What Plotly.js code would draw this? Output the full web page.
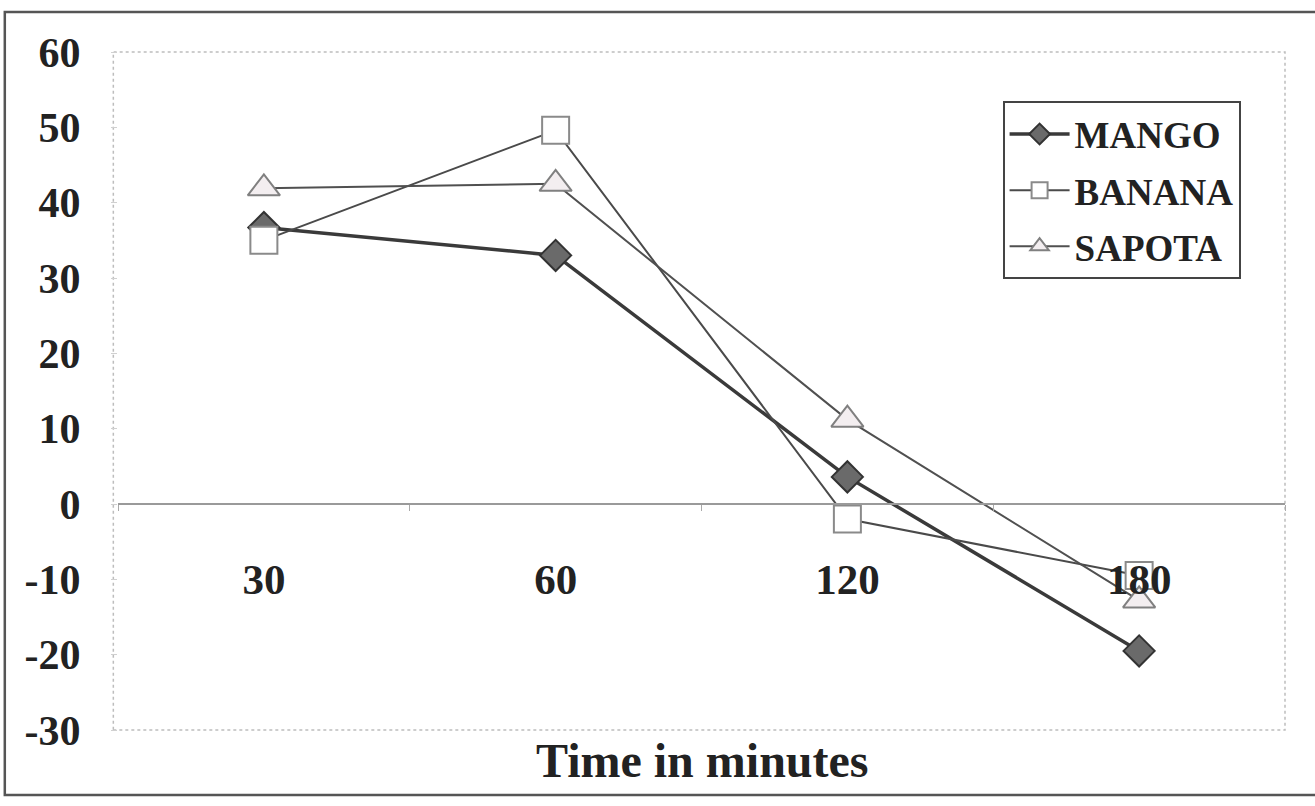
<!DOCTYPE html>
<html>
<head>
<meta charset="utf-8">
<script src="https://cdn.plot.ly/plotly-3.0.1.min.js"></script>
<style>html,body{margin:0;padding:0;background:#fff;}#chart{width:1315px;height:806px;}</style>
</head>
<body>
<div id="chart"></div>
<script>
const categories = ['30', '60', '120', '180'];
const mango = [36.7, 33, 3.6, -19.5];
const banana = [35, 49.6, -2, -9.5];
const sapota = [41.9, 42.5, 11.2, -12.8];
const yTicks = [60, 50, 40, 30, 20, 10, 0, -10, -20, -30];
const xTitle = 'Time in minutes';

const serif = '"Liberation Serif", "DejaVu Serif", serif';

const traces = [
  {
    x: categories, y: mango, name: 'MANGO', type: 'scatter', mode: 'lines+markers',
    legendgroup: 'g1',
    line: {color: '#3a3a3a', width: 3.5},
    marker: {symbol: 'diamond', size: 24, color: '#6a6a6a', line: {color: '#333', width: 2}}
  },
  {
    x: categories, y: banana, name: 'BANANA', type: 'scatter', mode: 'lines+markers',
    legendgroup: 'g2',
    line: {color: '#4a4a4a', width: 2},
    marker: {symbol: 'square', size: 27, color: '#ffffff', line: {color: '#8a8a8a', width: 2}}
  },
  {
    x: categories, y: sapota, name: 'SAPOTA', type: 'scatter', mode: 'lines+markers',
    legendgroup: 'g3',
    line: {color: '#505050', width: 2},
    marker: {symbol: 'triangle-up', size: 28, color: '#f3eef0', line: {color: '#808080', width: 2}}
  }
];

const layout = {
  width: 1315, height: 806,
  margin: {l: 118, r: 30, t: 52, b: 76},
  paper_bgcolor: '#ffffff',
  plot_bgcolor: '#ffffff',
  font: {family: serif, color: '#222', size: 40},
  showlegend: true,
  legend: {
    x: 0.758, y: 0.927, xanchor: 'left', yanchor: 'top',
    bgcolor: '#ffffff', bordercolor: '#444', borderwidth: 2,
    font: {family: serif, size: 37, color: '#222', weight: 'bold'},
    itemwidth: 60, tracegroupgap: 5
  },
  xaxis: {
    type: 'category',
    range: [-0.5, 3.5],
    anchor: 'free', position: 1/3,
    showline: true, linecolor: '#9a9a9a', linewidth: 2,
    showgrid: false, zeroline: false,
    ticks: 'outside', tickson: 'boundaries', ticklen: 6, tickcolor: '#aaa',
    ticklabelstandoff: 37,
    tickfont: {family: serif, size: 43, color: '#222', weight: 'bold'}
  },
  yaxis: {
    range: [-30, 60],
    tickvals: yTicks,
    ticktext: yTicks.map(String),
    showline: false,
    showgrid: false, zeroline: false,
    ticks: 'outside', ticklen: 6, tickcolor: '#d0d0d0',
    ticklabelstandoff: 22,
    tickfont: {family: serif, size: 42, color: '#222', weight: 'bold'}
  },
  shapes: [
    {type: 'rect', xref: 'paper', yref: 'paper', x0: -0.004, x1: 1, y0: 0, y1: 1,
     line: {color: '#bdbdbd', width: 1.5, dash: 'dot'}, layer: 'below'},
    {type: 'rect', xref: 'paper', yref: 'paper', x0: -0.097, x1: 1.03, y0: -0.096, y1: 1.059,
     line: {color: '#555', width: 2.5}, layer: 'below'}
  ],
  annotations: [
    {text: xTitle, xref: 'paper', yref: 'paper', x: 0.5, y: -0.045,
     xanchor: 'center', yanchor: 'middle', showarrow: false,
     font: {family: serif, size: 48, color: '#222', weight: 'bold'}}
  ]
};

Plotly.newPlot('chart', traces, layout, {displayModeBar: false, staticPlot: true});
</script>
</body>
</html>
